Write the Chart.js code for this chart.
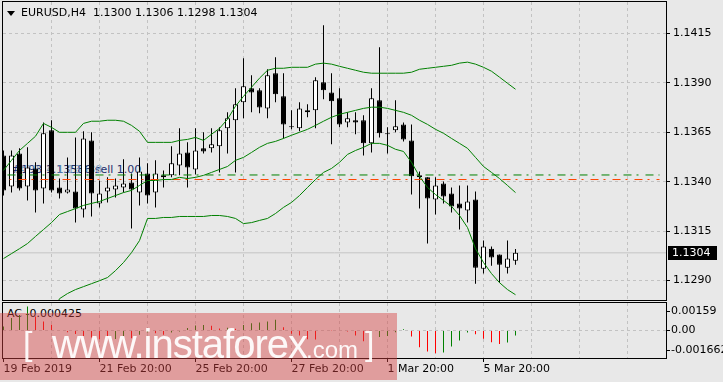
<!DOCTYPE html>
<html>
<head>
<meta charset="utf-8">
<title>EURUSD,H4</title>
<script src="https://cdn.jsdelivr.net/npm/chart.js@4.4.1/dist/chart.umd.min.js"></script>
<style>
  html, body { margin: 0; padding: 0; background: #e8e8e8; overflow: hidden; }
  #wrap { position: relative; width: 723px; height: 382px; font-family: "DejaVu Sans", sans-serif; font-size: 11px; color: #000; }
  #wrap canvas { position: absolute; left: 0; top: 0; }
  .txt { position: absolute; white-space: nowrap; line-height: 13px; }
  #mark { position: absolute; left: 0; top: 313px; width: 397px; height: 67px; background: rgba(214, 67, 67, 0.45); }
  .wm { position: absolute; white-space: nowrap; color: rgba(255, 255, 255, 0.93); font-family: "Liberation Sans", Arial, sans-serif; }
</style>
</head>
<body>
<div id="wrap">
  <!-- order label sits behind the candles -->
  <div class="txt" style="left:12px; top:163px; color:#24306e;">#193 1.13586 sell 1.00</div>
  <div class="txt" style="left:16px; top:163px; color:#5b8fc0; opacity:0.75;">#1924 1.13588</div>
  <div class="txt" id="acLabel" style="left:7px; top:307px;"></div>

  <canvas id="mainChart" width="723" height="382"></canvas>
  <canvas id="acChart" width="723" height="382"></canvas>

  <div style="position:absolute; left:7px; top:11px; width:0; height:0; border-left:4px solid transparent; border-right:4px solid transparent; border-top:5px solid #000;"></div>
  <div class="txt" style="left:21px; top:6px;">EURUSD,H4</div>
  <div class="txt" id="ohlc" style="left:93px; top:6px;"></div>

  <div id="mark">
    <span class="wm" style="left:23px; top:13px; font-size:34px; line-height:34px;">[</span>
    <span class="wm" style="left:52px; top:11px; font-size:40px; line-height:40px; letter-spacing:-1px;">www.instaforex</span>
    <span class="wm" style="left:306px; top:25px; font-size:24px; line-height:24px;">.com</span>
    <span class="wm" style="left:365px; top:13px; font-size:34px; line-height:34px;">]</span>
  </div>
</div>

<script>
//===== DATA (H4 bars, 19 Feb 20:00 .. 6 Mar 12:00) =====
const opens = [1.13533, 1.13376, 1.13543, 1.13376, 1.13467, 1.13366, 1.13660, 1.13371, 1.13345, 1.13351,
  1.13259, 1.13609, 1.13290, 1.13351, 1.13361, 1.13371, 1.13396, 1.13345, 1.13442, 1.13345,
  1.13432, 1.13432, 1.13482, 1.13548, 1.13462, 1.13569, 1.13569, 1.13579, 1.13670, 1.13711,
  1.13802, 1.13873, 1.13863, 1.13771, 1.13949, 1.13832, 1.13680, 1.13670, 1.13761, 1.13761,
  1.13903, 1.13852, 1.13822, 1.13700, 1.13711, 1.13711, 1.13594, 1.13812, 1.13642, 1.13660,
  1.13690, 1.13609, 1.13422, 1.13422, 1.13310, 1.13391, 1.13340, 1.13290, 1.13254, 1.13310,
  1.12960, 1.13061, 1.13031, 1.12965, 1.13000];
const highs = [1.13558, 1.13558, 1.13569, 1.13574, 1.13498, 1.13700, 1.13711, 1.13416, 1.13523, 1.13624,
  1.13655, 1.13650, 1.13406, 1.13422, 1.13416, 1.13513, 1.13442, 1.13523, 1.13493, 1.13508,
  1.13457, 1.13579, 1.13670, 1.13599, 1.13670, 1.13650, 1.13670, 1.13675, 1.13751, 1.13873,
  1.14025, 1.13939, 1.13873, 1.13969, 1.14030, 1.13949, 1.13761, 1.13802, 1.13792, 1.13929,
  1.14192, 1.13949, 1.13873, 1.13751, 1.13751, 1.13736, 1.13873, 1.14081, 1.13675, 1.13812,
  1.13700, 1.13690, 1.13452, 1.13422, 1.13422, 1.13401, 1.13371, 1.13381, 1.13381, 1.13351,
  1.13102, 1.13072, 1.13031, 1.13102, 1.13060];
const lows = [1.13330, 1.13345, 1.13356, 1.13305, 1.13244, 1.13290, 1.13345, 1.13315, 1.13340, 1.13193,
  1.13219, 1.13224, 1.13270, 1.13295, 1.13320, 1.13345, 1.13163, 1.13280, 1.13290, 1.13270,
  1.13371, 1.13422, 1.13432, 1.13371, 1.13437, 1.13543, 1.13548, 1.13447, 1.13543, 1.13447,
  1.13721, 1.13751, 1.13746, 1.13721, 1.13802, 1.13619, 1.13665, 1.13655, 1.13726, 1.13670,
  1.13817, 1.13589, 1.13675, 1.13675, 1.13640, 1.13533, 1.13548, 1.13624, 1.13543, 1.13650,
  1.13604, 1.13335, 1.13264, 1.13087, 1.13234, 1.13290, 1.13244, 1.13158, 1.13193, 1.12884,
  1.12935, 1.12975, 1.12889, 1.12935, 1.12980];
const closes = [1.13356, 1.13533, 1.13366, 1.13472, 1.13356, 1.13645, 1.13356, 1.13340, 1.13361, 1.13264,
  1.13619, 1.13340, 1.13340, 1.13371, 1.13381, 1.13391, 1.13361, 1.13452, 1.13330, 1.13442,
  1.13422, 1.13493, 1.13543, 1.13472, 1.13558, 1.13553, 1.13589, 1.13660, 1.13721, 1.13792,
  1.13883, 1.13852, 1.13776, 1.13939, 1.13842, 1.13690, 1.13675, 1.13771, 1.13751, 1.13913,
  1.13863, 1.13807, 1.13690, 1.13721, 1.13700, 1.13594, 1.13822, 1.13645, 1.13640, 1.13680,
  1.13614, 1.13427, 1.13432, 1.13315, 1.13381, 1.13325, 1.13275, 1.13264, 1.13300, 1.12965,
  1.13072, 1.13016, 1.12980, 1.13011, 1.13040];

const upperBand = [1.13457, 1.13508, 1.13558, 1.13594, 1.13630, 1.13695, 1.13675, 1.13650, 1.13650, 1.13650,
  1.13695, 1.13706, 1.13706, 1.13711, 1.13711, 1.13706, 1.13685, 1.13655, 1.13599, 1.13599,
  1.13599, 1.13599, 1.13609, 1.13614, 1.13624, 1.13609, 1.13640, 1.13670, 1.13716, 1.13782,
  1.13832, 1.13878, 1.13924, 1.13964, 1.13974, 1.13974, 1.13979, 1.13979, 1.13979, 1.13995,
  1.14000, 1.13995, 1.13984, 1.13974, 1.13964, 1.13954, 1.13949, 1.13949, 1.13949, 1.13949,
  1.13949, 1.13954, 1.13969, 1.13974, 1.13979, 1.13984, 1.13989, 1.14000, 1.14005, 1.13995,
  1.13979, 1.13959, 1.13929, 1.13898, 1.13868];
const middleBand = [1.13011, 1.13036, 1.13061, 1.13087, 1.13123, 1.13158, 1.13193, 1.13234, 1.13249, 1.13264,
  1.13280, 1.13290, 1.13300, 1.13315, 1.13330, 1.13345, 1.13356, 1.13381, 1.13406, 1.13406,
  1.13411, 1.13411, 1.13422, 1.13416, 1.13422, 1.13432, 1.13447, 1.13462, 1.13477, 1.13508,
  1.13523, 1.13548, 1.13574, 1.13594, 1.13604, 1.13619, 1.13635, 1.13650, 1.13665, 1.13685,
  1.13706, 1.13726, 1.13741, 1.13751, 1.13761, 1.13771, 1.13777, 1.13777, 1.13771, 1.13761,
  1.13751, 1.13736, 1.13711, 1.13690, 1.13665, 1.13645, 1.13619, 1.13594, 1.13569, 1.13523,
  1.13477, 1.13447, 1.13416, 1.13381, 1.13345];
const lowerBand = [1.12565, 1.12565, 1.12565, 1.12580, 1.12616, 1.12631, 1.12717, 1.12808, 1.12834, 1.12854,
  1.12869, 1.12884, 1.12899, 1.12915, 1.12950, 1.12991, 1.13041, 1.13102, 1.13214, 1.13214,
  1.13219, 1.13219, 1.13224, 1.13224, 1.13224, 1.13224, 1.13229, 1.13229, 1.13224, 1.13214,
  1.13188, 1.13193, 1.13204, 1.13214, 1.13239, 1.13270, 1.13295, 1.13330, 1.13371, 1.13411,
  1.13447, 1.13467, 1.13498, 1.13538, 1.13558, 1.13574, 1.13594, 1.13594, 1.13584, 1.13564,
  1.13553, 1.13498, 1.13427, 1.13371, 1.13335, 1.13305, 1.13275, 1.13229, 1.13168, 1.13061,
  1.12991, 1.12935, 1.12889, 1.12854, 1.12828];

const acValues = [0.00033, 0.00104, 0.0013, 0.0020, 0.00117, 0.00075, 0.00048, 0.00005, -0.00014, -0.0003,
  -0.00045, -0.00059, -0.00073, -0.00076, -0.00072, -0.00055, -0.00065, -0.00036, -0.00017, -0.00022,
  -0.00036, -0.00017, -0.00008, 0.0002, 0.00042, 0.00047, 0.00039, 0.00017, 0.00022, 0.00015,
  0.00047, 0.00061, 0.00067, 0.00075, 0.00089, 0.00028, -0.00028, -0.00042, -0.00073, -0.00076,
  0.00005, 0.00002, -0.00005, -0.00008, -0.00042, -0.0009, -0.0006, -0.00055, -0.00047, -0.00015,
  0.0001, -0.0005, -0.0014, -0.00176, -0.0019, -0.00184, -0.00134, -0.00084, -0.00017, -0.00031,
  -0.0007, -0.00098, -0.00112, -0.001, -0.000425];

const priceTicks = [1.1290, 1.1315, 1.1340, 1.1365, 1.1390, 1.1415];
const acTicks = [-0.001662, 0, 0.00159];
const acTickLabels = ['-0.001662', '0.00', '0.00159'];
const gridBars = [6, 12, 18, 24, 30, 36, 42, 48, 54, 60, 66, 72, 78];
const timeTickBars = [0, 12, 24, 36, 48, 60];
const timeTickLabels = ['19 Feb 2019', '21 Feb 20:00', '25 Feb 20:00', '27 Feb 20:00', '1 Mar 20:00', '5 Mar 20:00'];
const bidPrice = 1.1304;
const greenLevel = 1.13434;
const redLevel = 1.13411;

//===== SETUP =====
Chart.defaults.font.family = '"DejaVu Sans", sans-serif';
Chart.defaults.font.size = 11;
Chart.defaults.color = '#000';

const X_MIN = -0.0625, X_MAX = 82.8125;   // 8px per bar
const GRID = '#c2c2c2';
const NONE = 'rgba(0,0,0,0)';
const last = closes.length - 1;

document.getElementById('ohlc').textContent =
  [opens[last], highs[last], lows[last], closes[last]].map(v => v.toFixed(4)).join(' ');
document.getElementById('acLabel').textContent = 'AC ' + acValues[last].toFixed(6);

const pts = arr => arr.map((v, i) => ({x: i, y: v}));
const level = (v, a, b) => [{x: a, y: v}, {x: b, y: v}];

function fixWidth(w) {
  return s => { s.width = w; s.paddingTop = 0; s.paddingBottom = 0; };
}
function fixHeight(h) {
  return s => { s.height = h; s.paddingLeft = 0; s.paddingRight = 0; };
}

const frame = {
  id: 'frame',
  afterDraw(chart) {
    const {ctx, chartArea: a} = chart;
    ctx.save();
    ctx.strokeStyle = '#000';
    ctx.lineWidth = 1;
    ctx.strokeRect(a.left - 0.5, a.top - 0.5, a.right - a.left + 1, a.bottom - a.top + 1);
    ctx.restore();
  }
};

const bidLabel = {
  id: 'bidLabel',
  afterDraw(chart) {
    const ctx = chart.ctx;
    const y = Math.round(chart.scales.y.getPixelForValue(bidPrice));
    ctx.save();
    ctx.fillStyle = '#000';
    ctx.fillRect(668, y - 7, 49, 14);
    ctx.fillStyle = '#fff';
    ctx.font = '11px "DejaVu Sans"';
    ctx.textBaseline = 'middle';
    ctx.fillText(bidPrice.toFixed(4), 672, y);
    ctx.restore();
  }
};

//===== MAIN CHART =====
const bodyColors = closes.map((c, i) => c >= opens[i] ? '#ffffff' : '#000000');
const bodies = opens.map((o, i) => ({x: i, y: [o, closes[i]]}));
const wicks = lows.map((l, i) => ({x: i, y: [l, highs[i]]}));

const band = (label, arr) => ({
  label: label, data: pts(arr), borderColor: '#008000', borderWidth: 1,
  pointRadius: 0, tension: 0, order: 0
});

new Chart(document.getElementById('mainChart'), {
  type: 'line',
  data: {
    datasets: [
      band('Upper', upperBand),
      band('Middle', middleBand),
      band('Lower', lowerBand),
      { label: 'Green level', data: level(greenLevel, 0.5, 82), borderColor: '#008000', borderWidth: 1,
        borderDash: [8, 5, 2, 7], pointRadius: 0, order: 1 },
      { label: 'Red level', data: level(redLevel, 0.5, 82), borderColor: '#ff4500', borderWidth: 1,
        borderDash: [8, 5, 2, 7], borderDashOffset: 11, pointRadius: 0, order: 1 },
      { type: 'bar', label: 'Body', data: bodies, backgroundColor: bodyColors, borderColor: '#000',
        borderWidth: 1, borderSkipped: false, barThickness: 5, maxBarThickness: 5, grouped: false,
        minBarLength: 1, inflateAmount: 0, order: 2 },
      { type: 'bar', label: 'Wick', data: wicks, backgroundColor: '#000', borderWidth: 0,
        barThickness: 1, maxBarThickness: 1, grouped: false, inflateAmount: 0, order: 3 },
      { label: 'Bid', data: level(bidPrice, X_MIN, X_MAX), borderColor: '#c4c4c4', borderWidth: 1,
        pointRadius: 0, order: 4 }
    ]
  },
  options: {
    responsive: false,
    animation: false,
    events: [],
    layout: { padding: { left: 3, top: 2, right: 0, bottom: 82 }, autoPadding: false },
    plugins: { legend: { display: false }, tooltip: { enabled: false } },
    scales: {
      x: {
        type: 'linear', min: X_MIN, max: X_MAX, offset: false,
        afterBuildTicks: s => { s.ticks = gridBars.map(v => ({value: v})); },
        afterFit: fixHeight(0),
        ticks: { display: false },
        grid: { color: GRID, drawTicks: false, offset: false },
        border: { display: false, dash: [3, 3] }
      },
      y: {
        type: 'linear', position: 'right', min: 1.128013, max: 1.143094,
        afterBuildTicks: s => { s.ticks = priceTicks.map(v => ({value: v})); },
        afterFit: fixWidth(57),
        ticks: { callback: v => v.toFixed(4), padding: 3 },
        grid: { color: GRID, tickColor: '#000', tickLength: 4 },
        border: { display: false, dash: [3, 3] }
      }
    }
  },
  plugins: [frame, bidLabel]
});

//===== AC SUB-WINDOW =====
const acColors = acValues.map((v, i) => (i === 0 || v > acValues[i - 1]) ? '#008000' : '#ff0000');

new Chart(document.getElementById('acChart'), {
  type: 'line',
  data: {
    datasets: [
      { type: 'bar', label: 'AC', data: pts(acValues), backgroundColor: acColors, borderWidth: 0,
        barThickness: 1, maxBarThickness: 1, grouped: false, inflateAmount: 0 }
    ]
  },
  options: {
    responsive: false,
    animation: false,
    events: [],
    layout: { padding: { left: 3, top: 303, right: 0, bottom: 0 }, autoPadding: false },
    plugins: { legend: { display: false }, tooltip: { enabled: false } },
    scales: {
      x: {
        type: 'linear', min: X_MIN, max: X_MAX, offset: false,
        afterBuildTicks: s => { s.ticks = [0].concat(gridBars).map(v => ({value: v})); },
        afterFit: fixHeight(24),
        ticks: {
          autoSkip: false, maxRotation: 0, minRotation: 0, align: 'start', padding: 1,
          callback: v => {
            const k = timeTickBars.indexOf(v);
            return k < 0 ? '' : timeTickLabels[k];
          }
        },
        grid: {
          color: c => (c.tick && c.tick.value === 0) ? NONE : GRID,
          tickColor: c => (c.tick && timeTickBars.includes(c.tick.value)) ? '#000' : NONE,
          tickLength: 4, offset: false
        },
        border: { display: false, dash: [3, 3] }
      },
      y: {
        type: 'linear', position: 'right', min: -0.002301, max: 0.002301,
        afterBuildTicks: s => { s.ticks = acTicks.map(v => ({value: v})); },
        afterFit: fixWidth(57),
        ticks: { padding: 1, callback: (v, i) => acTickLabels[i] },
        grid: {
          color: c => (c.tick && c.tick.value === 0) ? GRID : NONE,
          tickColor: '#000', tickLength: 4
        },
        border: { display: false, dash: [3, 3] }
      }
    }
  },
  plugins: [frame]
});
</script>
</body>
</html>
